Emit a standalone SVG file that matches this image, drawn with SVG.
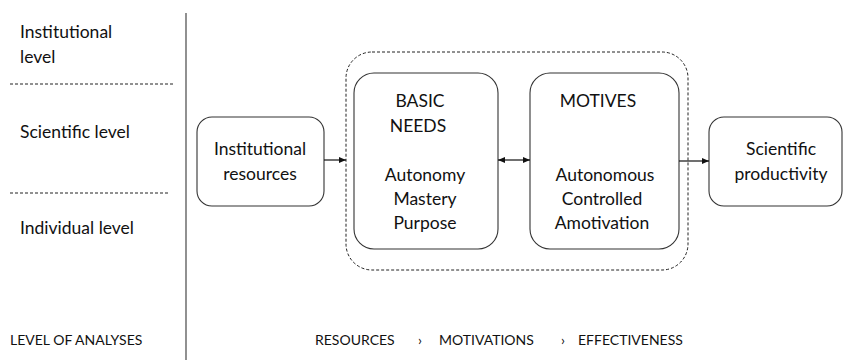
<svg xmlns="http://www.w3.org/2000/svg" width="847" height="360" viewBox="0 0 847 360">
<style>
text{font-family:Lato,"Open Sans","Liberation Sans",sans-serif;fill:#111;}
.t{font-size:17.5px;}
.s{font-size:14px;}
.c{text-anchor:middle;}
.box{fill:#fff;stroke:#333;stroke-width:1.1;}
.dash{fill:none;stroke:#222;stroke-width:1;stroke-dasharray:3,2;}
.line{stroke:#111;stroke-width:1.2;fill:none;}
</style>
<defs>
<marker id="ah" markerWidth="8" markerHeight="8" refX="7" refY="4" orient="auto-start-reverse" markerUnits="userSpaceOnUse">
<path d="M0,1 L7,4 L0,7 Z" fill="#111"/>
</marker>
</defs>
<rect width="847" height="360" fill="#fff"/>
<g id="levels">
<line x1="186" y1="13" x2="186" y2="360" stroke="#555" stroke-width="1.3"/>
<line x1="10" y1="84" x2="173" y2="84" class="dash" stroke="#444"/>
<line x1="10" y1="193" x2="170" y2="193" class="dash" stroke="#444"/>
<text class="t" x="20" y="38">Institutional</text>
<text class="t" x="20" y="63">level</text>
<text class="t" x="20" y="138">Scientific level</text>
<text class="t" x="20" y="234">Individual level</text>
<text class="s" x="10" y="345">LEVEL OF ANALYSES</text>
<text class="s" x="315" y="345">RESOURCES</text>
<text class="s" x="418" y="345">›</text>
<text class="s" x="439" y="345">MOTIVATIONS</text>
<text class="s" x="561" y="345">›</text>
<text class="s" x="578" y="345">EFFECTIVENESS</text>
</g>
<g id="group-motivation">
<rect x="346" y="52" width="342" height="218" rx="26" class="dash"/>
</g>
<g id="node-resources">
<rect x="197" y="117" width="127" height="89" rx="15" class="box"/>
<text class="t c" x="260" y="155">Institutional</text>
<text class="t c" x="260" y="180">resources</text>
</g>
<g id="node-needs">
<rect x="354" y="73" width="144" height="176" rx="20" class="box"/>
<text class="t c" x="420" y="107">BASIC</text>
<text class="t c" x="418" y="132">NEEDS</text>
<text class="t c" x="425" y="181">Autonomy</text>
<text class="t c" x="425" y="205">Mastery</text>
<text class="t c" x="425" y="229">Purpose</text>
</g>
<g id="node-motives">
<rect x="530" y="73" width="149" height="176" rx="20" class="box"/>
<text class="t c" x="598" y="107">MOTIVES</text>
<text class="t c" x="605" y="181">Autonomous</text>
<text class="t c" x="602" y="205">Controlled</text>
<text class="t c" x="602" y="229">Amotivation</text>
</g>
<g id="node-productivity">
<rect x="709" y="117" width="133" height="89" rx="15" class="box"/>
<text class="t c" x="781" y="155">Scientific</text>
<text class="t c" x="781" y="180">productivity</text>
</g>
<g id="connectors">
<line x1="324" y1="160" x2="346" y2="160" class="line" marker-end="url(#ah)"/>
<line x1="498" y1="160" x2="530" y2="160" class="line" marker-start="url(#ah)" marker-end="url(#ah)"/>
<line x1="679" y1="161" x2="709" y2="161" class="line" marker-end="url(#ah)"/>
</g>
</svg>
